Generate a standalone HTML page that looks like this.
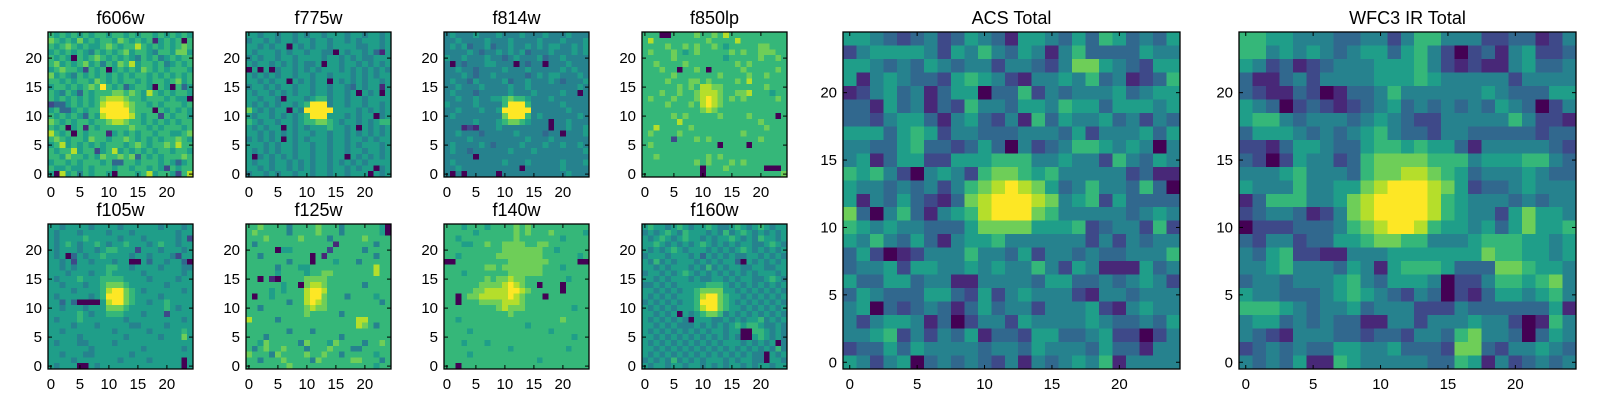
<!DOCTYPE html>
<html><head><meta charset="utf-8"><style>
html,body{margin:0;padding:0;background:#fff;}
svg{display:block;font-family:"Liberation Sans",sans-serif;}
</style></head><body>
<svg id="fig" width="1600" height="400" viewBox="0 0 1600 400" xmlns="http://www.w3.org/2000/svg"></svg>
<script>
// ---- data: rows listed from top (y=24) to bottom (y=0), digits 0-9 intensity level ----
const f606w = [
"6565656566566565665656565",
"7656575656657656561565606","6567656556765668656565676","5656565465656756654665775","6565065676565654656456566","6756567564657685665645656",
"5676652656056565765656665","7565465656565656656565656","6656566576565665656656756","5665656769656356650650635","6546536566677676586565665",
"6565656567888766566656550","2335656568999876656566656","5633565669999976660656565","6565653658999986566265665","7656566566788766565656566",
"6560561656666676656566656","8656065666156565665665567","6765665766566765656566765","5685656565666567656676866","6566856625685656565665665",
"6657665657667673656566676","5665656665633665666565356","6556556566656656656526566","5085646566506665685665268"];
const f775w = [
"5545545545455455545545545","4554545545545545545455545",
"5545455054545545555445545","5455545455455440545545315","4545545545555455454544555","5455454545445055455454545","0505045545454555454545454",
"5454545545545545554545455","5545455054545505454545545","4554545545545545543545515","5455454545545545545054505","5545540555456645545545555",
"5454545545699945545545545","7545455054999995555454545","5455454545699955545455045","6545545545667765455454566","5454550545455565545054545",
"5545454545545545545454545","4545450545455545545545455","5554545545545545545455545","5454545545545545545545545","5045454545545545505454545",
"5455455454545545454545555","5545455454545545545455045","4554545545545545545550545"];
const f814w = [
"4544454445444544454445444","4454444544454444544454445",
"4545344534454454545544545","4444543445454534445444545","5445444544345444534454444","4043444554440434404445444","4454434444544454444454544",
"4445434454444434545544454","4544354444534454445434445","4454445444454454444444454","4544434444454445444454404","4454454455676654445444444",
"5444454444699964444454444","4454445445999994444445444","4544444444799964544444454","4444454445677654440445444","4441214445444444440445445",
"4454443444445444434404445","4444544444444454445444444","4544445434444544454454454","4544344444454445444444445","4444404444444444444444444",
"4544444444544454444454445","4454444444444044444454444","4040444440444444444445444"];
const f850lp = [
"6660066667667686666666666","6866666666676666866666666","6666766767667656666677666","6766676567666667676677766","6666676666666656666676676",
"6676666766666666767666666","6667660667606666676666676","6666676666666766667667666","6666766677676666768666666","6666667676887766666667666",
"6667667667888766778666566","6766676667898767676666676","6666766676898766666666666","6666666666787666666666666","6666676766666766667666606",
"6666668666666666666676666","6686666676666666666667666","6766667666666666676666666","6666626667676666666676666","6766666666666066660666666",
"6666666666666666666666666","6676666666676766666666666","6666666667676667676666666","6666666666066676666660006","6666666666066666666666667"];
const f105w = [
"5545555455554555555455545","5455545555455545555555455",
"5455556555554555455555452","5456545565455655545655455","5455545545665552555455545","5450354556555545545554255","5545255455545500535545530",
"5545455555665545555455544","5554555455655555455555545","5455565556666555545555455","5545554556777655555545555","5555455556899765455555545",
"5455555456999765555455555","5535300005899765545565555","5545554555777655555565455","5555565455666555455525555","5455565555555455555555545",
"5555455545555544555545555","5545555555545555545555565","5555545555555455555455575","5455544555545555555555555","5555555455555555455555545",
"5545554455555545555555555","5555455555554555545555505","5455500545555555555555505"];
const f125w = [
"6676666466667666466666650",
"6766666466667666466666650","6667666667666646666676666","6466666666666661666666466","6666605566666626666646666","6646666666606166666666466",
"6666666466606665666466666","6666646665566666666666866","6666656666566776666666866","6606106666777766666666666","6666665660788766666646666",
"6666565666899866666666666","6066566666899766646666566","6666666466898766666666646","6646666666787766666666666","6666666666766666466666666",
"8666646666666666666886666","6666666666666666666876466","6666666466646666666666666","6664666666666666466666666","6657666664766657666646676",
"6467667666466676664466666","7666476666766766466666566","6646667666647666667766646","6666666766666666666666566"];
const f140w = [
"6665666566667676666666666",
"6666656666667676667666665","6656666666667666666656666","6665566766777766776666666","6666666666777777766566666","6656666667777777766666656",
"0066666666677777776666600","6666666776777777766656666","6665666666677777766666666","6666666767787766666665666","6666667777898766066606666",
"6666677888899876666606666","6606778888898766606666666","6606667777888766666666666","6666666667877766666666566","6666666666676666666666666",
"6656666666666666666676666","6666666666666656666666666","6666566666666666665666666","6666666666666666666666566","6665666566666666666666666",
"6666666666656666666665666","6666566666666666666666666","6666666666666666566666666","6606666666666666666666666"];
const f160w = [
"5655456545565445654565455","4545654655545464565454545","5456545655454556545465545","5565454545654545455445654","5454565455545454565454545",
"4555455545354545445545454","5464545554545455305454545","5545455545464545544554455","4554545654545454545455545","5545455545445545455445654",
"4454545555566654545454545","5545454556777755454545454","5454545556899765545454545","4545454556999765454545454","5454545556899765545454545",
"5545450545677645454545454","5454545405554454545564545","5545454445454545656654454","5454545454545545500665454","5545454545454545400565454",
"5454545454545455545454504","5545454545454545454545464","5454545454545454545440545","4545464545455545455440554","5455455455454545545455455"];
const acsTotal = [
"5543234235431554353653435","2455554254643541463333544","5543435434424432477543255","5145433256542144546341236","1245341355033624344453455",
"3315341326443554655355545","3324553145324163544534243","5553565244333444352444535","4433563323530423466545404","4513552255566644544264354",
"6564204542677656444442311","5443434246789875346443630","5143532137899987456253333","7304631456899976444443454","6545443335777755562344262",
"5464353145564444442424344","3520124446443524434334446","3445255445454464254111534","5335534411444435533434542","3543335532524544421443444",
"4503234313534424445214544","4245541302442544445433435","4456242435133255334522024","2335354444344354443533144","5424503434324143454614444"];
const wfc3Total = [
"6655444334424664442233124","6645454345535642023145223","5423123444555642121145334","3113424444555654444424444","3211320133464444445433355",
"5430232123453434343543024","5664344434543224444464221","3555434345643324433333233","2213554335665655314444432","3202544236777766645556643",
"4445644436778876534445433","5444644557899987523345444","1366644578999986544434344","2344312478999986544257554","0222333467899865545357556",
"3244233556776644456665545","4356221144455555557665545","4456444354156665333776554","3443444564355540224665674","5443334565432430213554564",
"6665434453444222433333351","4553434331144244454420164","4321444332332443674430354","2343433554453332773244543","4343511654444433651423434"];

const panelNames = ["f606w","f775w","f814w","f850lp","f105w","f125w","f140w","f160w","ACS Total","WFC3 IR Total"];
const panelData = [f606w,f775w,f814w,f850lp,f105w,f125w,f140w,f160w,acsTotal,wfc3Total];
const xTicks = [0,5,10,15,20];
const yTicks = [0,5,10,15,20];
const N = 25;

// layout (not data)
const layouts = [
 {x:48,y:32,s:145},{x:246,y:32,s:145},{x:444,y:32,s:145},{x:642,y:32,s:145},
 {x:48,y:224,s:145},{x:246,y:224,s:145},{x:444,y:224,s:145},{x:642,y:224,s:145},
 {x:843,y:32,s:337},{x:1239,y:32,s:337}
];

const vir = [[68,1,84],[72,40,120],[62,73,137],[49,104,142],[38,130,142],[31,158,137],[53,183,121],[110,206,88],[181,222,43],[253,231,37]];
function viridis(t){t=Math.max(0,Math.min(1,t));const p=t*(vir.length-1);const i=Math.min(Math.floor(p),vir.length-2);const f=p-i;
 const c=vir[i].map((v,k)=>Math.round(v+(vir[i+1][k]-v)*f));return `rgb(${c[0]},${c[1]},${c[2]})`;}

const NS="http://www.w3.org/2000/svg";
const svg=document.getElementById('fig');
function mk(tag,attrs,parent){const e=document.createElementNS(NS,tag);for(const k in attrs)e.setAttribute(k,attrs[k]);(parent||svg).appendChild(e);return e;}

panelData.forEach((rows,pi)=>{
 const L=layouts[pi];
 const cw=L.s/N;
 const xScale=v=>L.x+v*cw;
 const yScale=v=>L.y+L.s-(v+1)*cw;
 const slug=panelNames[pi].toLowerCase().replace(/\s+/g,'-');
 const g=mk('g',{});
 
 
 const img=mk('g',{'shape-rendering':'crispEdges'},g);
 
 
 for(let r=0;r<N;r++){
  const row=rows[r]||"";
  const yv=N-1-r;
  for(let c=0;c<N;c++){
   const ch=row[c];
   const lvl=(ch===undefined)?5:parseInt(ch,10);
   const rect=mk('rect',{x:xScale(c),y:yScale(yv),width:cw+0.6,height:cw+0.6,fill:viridis(lvl/9)},img);
   
   
  }
 }
 const frame=mk('rect',{x:L.x,y:L.y,width:L.s,height:L.s,fill:'none',stroke:'#000','stroke-width':1.3},g);
 
 
 const tl=4;
 xTicks.forEach(v=>{
  const x=xScale(v)+cw/2;
  mk('line',{x1:x,y1:L.y+L.s,x2:x,y2:L.y+L.s-tl,stroke:'#000','stroke-width':1},g);
  mk('line',{x1:x,y1:L.y,x2:x,y2:L.y+tl,stroke:'#000','stroke-width':1},g);
  const t=mk('text',{x:x,y:L.y+L.s+20,'text-anchor':'middle','font-size':15,fill:'#000'},g);
  t.textContent=v;
  
  
 });
 yTicks.forEach(v=>{
  const y=yScale(v)+cw/2;
  mk('line',{x1:L.x,y1:y,x2:L.x+tl,y2:y,stroke:'#000','stroke-width':1},g);
  mk('line',{x1:L.x+L.s,y1:y,x2:L.x+L.s-tl,y2:y,stroke:'#000','stroke-width':1},g);
  const t=mk('text',{x:L.x-6,y:y+5,'text-anchor':'end','font-size':15,fill:'#000'},g);
  t.textContent=v;
  
  
 });
 const title=mk('text',{x:L.x+L.s/2,y:L.y-8,'text-anchor':'middle','font-size':18,fill:'#000'},g);
 title.textContent=panelNames[pi];
 
 
});
</script>
</body></html>
